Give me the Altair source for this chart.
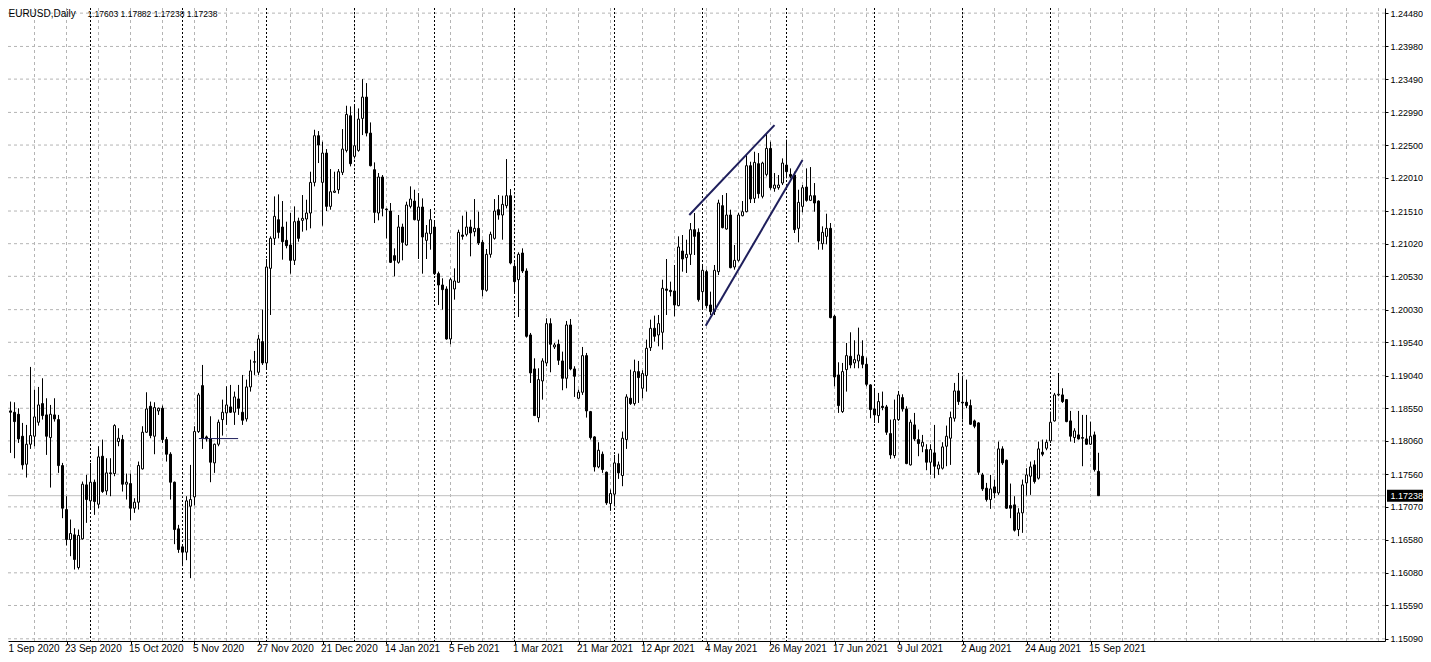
import json
import altair as alt
import pandas as pd

# ---------------- data (EURUSD daily) ----------------
opens = [1.1930, 1.1908, 1.1851, 1.1849, 1.1846, 1.1813, 1.1771, 1.1801, 1.1813, 1.1834,
         1.1862, 1.1845, 1.1811, 1.1845, 1.1838, 1.1769, 1.1703, 1.1658, 1.1665, 1.1616,
         1.1659, 1.1740, 1.1716, 1.1744, 1.1711, 1.1783, 1.1731, 1.1758, 1.1757, 1.1805,
         1.1808, 1.1741, 1.1742, 1.1705, 1.1714, 1.1764, 1.1819, 1.1858, 1.1813, 1.1851,
         1.1855, 1.1808, 1.1786, 1.1744, 1.1674, 1.1647, 1.1639, 1.1708, 1.1722, 1.1820,
         1.1889, 1.1812, 1.1809, 1.1773, 1.1801, 1.1838, 1.1848, 1.1857, 1.1849, 1.1869,
         1.1849, 1.1839, 1.1887, 1.1924, 1.1909, 1.1955, 1.1923, 1.2065, 1.2110, 1.2138,
         1.2127, 1.2107, 1.2100, 1.2077, 1.2136, 1.2137, 1.2139, 1.2148, 1.2194, 1.2264,
         1.2194, 1.2238, 1.2158, 1.2179, 1.2183, 1.2209, 1.2242, 1.2294, 1.2233, 1.2242,
         1.2290, 1.2322, 1.2268, 1.2213, 1.2148, 1.2202, 1.2154, 1.2151, 1.2084, 1.2074,
         1.2127, 1.2100, 1.2158, 1.2166, 1.2137, 1.2157, 1.2107, 1.2117, 1.2127, 1.2057,
         1.2040, 1.2034, 1.1959, 1.2034, 1.2044, 1.2115, 1.2116, 1.2127, 1.2120, 1.2125,
         1.2104, 1.2032, 1.2086, 1.2110, 1.2153, 1.2145, 1.2159, 1.2174, 1.2068, 1.2048,
         1.2088, 1.2061, 1.1965, 1.1914, 1.1841, 1.1896, 1.1923, 1.1982, 1.1947, 1.1951,
         1.1926, 1.1900, 1.1980, 1.1914, 1.1870, 1.1879, 1.1934, 1.1850, 1.1812, 1.1767,
         1.1786, 1.1759, 1.1712, 1.1726, 1.1772, 1.1754, 1.1808, 1.1870, 1.1862, 1.1910,
         1.1885, 1.1904, 1.1946, 1.1975, 1.1965, 1.1969, 1.2034, 1.2032, 1.2031, 1.2009,
         1.2091, 1.2081, 1.2086, 1.2123, 1.2119, 1.2030, 1.2060, 1.2010, 1.2000, 1.2060,
         1.2159, 1.2124, 1.2145, 1.2067, 1.2077, 1.2144, 1.2150, 1.2219, 1.2170, 1.2222,
         1.2173, 1.2206, 1.2245, 1.2185, 1.2186, 1.2193, 1.2220, 1.2206, 1.2205, 1.2125,
         1.2158, 1.2187, 1.2167, 1.2174, 1.2166, 1.2102, 1.2113, 1.2125, 1.1993, 1.1905,
         1.1850, 1.1913, 1.1933, 1.1923, 1.1926, 1.1933, 1.1921, 1.1890, 1.1854, 1.1844,
         1.1858, 1.1857, 1.1817, 1.1784, 1.1838, 1.1871, 1.1854, 1.1770, 1.1830, 1.1808,
         1.1798, 1.1793, 1.1774, 1.1788, 1.1764, 1.1765, 1.1798, 1.1810, 1.1840, 1.1881,
         1.1864, 1.1864, 1.1859, 1.1836, 1.1833, 1.1755, 1.1735, 1.1718, 1.1737, 1.1728,
         1.1794, 1.1777, 1.1709, 1.1710, 1.1673, 1.1698, 1.1743, 1.1753, 1.1770, 1.1750,
         1.1789, 1.1795, 1.1806, 1.1836, 1.1875, 1.1875, 1.1868, 1.1836, 1.1811, 1.1815,
         1.1811, 1.1809, 1.1801, 1.1815, 1.17603]
highs = [1.2012, 1.1929, 1.1865, 1.1864, 1.1855, 1.1833, 1.1830, 1.1917, 1.1883, 1.1887,
         1.1900, 1.1870, 1.1860, 1.1870, 1.1845, 1.1773, 1.1723, 1.1688, 1.1675, 1.1673,
         1.1745, 1.1755, 1.1773, 1.1748, 1.1798, 1.1808, 1.1780, 1.1780, 1.1831, 1.1825,
         1.1815, 1.1757, 1.1757, 1.1720, 1.1775, 1.1828, 1.1879, 1.1865, 1.1864, 1.1856,
         1.1859, 1.1812, 1.1789, 1.1745, 1.1680, 1.1648, 1.1723, 1.1770, 1.1828, 1.1878,
         1.1920, 1.1814, 1.1843, 1.1802, 1.1838, 1.1868, 1.1888, 1.1890, 1.1880, 1.1890,
         1.1905, 1.1898, 1.1928, 1.1941, 1.1965, 1.2003, 1.2079, 1.2113, 1.2173, 1.2176,
         1.2166, 1.2135, 1.2148, 1.2158, 1.2141, 1.2175, 1.2168, 1.2210, 1.2273, 1.2271,
         1.2255, 1.2244, 1.2214, 1.2210, 1.2214, 1.2274, 1.2309, 1.2308, 1.2309, 1.2305,
         1.2349, 1.2343, 1.2284, 1.2224, 1.2208, 1.2205, 1.2155, 1.2163, 1.2095, 1.2145,
         1.2132, 1.2165, 1.2188, 1.2183, 1.2178, 1.2170, 1.2130, 1.2154, 1.2137, 1.2060,
         1.2050, 1.2038, 1.2051, 1.2065, 1.2123, 1.2144, 1.2150, 1.2138, 1.2169, 1.2150,
         1.2108, 1.2094, 1.2120, 1.2169, 1.2175, 1.2174, 1.2229, 1.2184, 1.2074, 1.2089,
         1.2095, 1.2065, 1.1968, 1.1930, 1.1915, 1.1930, 1.1990, 1.1990, 1.1953, 1.1958,
         1.1940, 1.1986, 1.1989, 1.1918, 1.1883, 1.1947, 1.1938, 1.1851, 1.1813, 1.1804,
         1.1790, 1.1760, 1.1733, 1.1785, 1.1787, 1.1820, 1.1876, 1.1913, 1.1928, 1.1926,
         1.1912, 1.1958, 1.1988, 1.1994, 1.1995, 1.2048, 1.2079, 1.2045, 1.2070, 1.2113,
         1.2115, 1.2108, 1.2133, 1.2148, 1.2125, 1.2070, 1.2063, 1.2030, 1.2070, 1.2168,
         1.2175, 1.2178, 1.2153, 1.2100, 1.2148, 1.2166, 1.2235, 1.2225, 1.2240, 1.2238,
         1.2225, 1.2268, 1.2255, 1.2208, 1.2205, 1.2230, 1.2258, 1.2215, 1.2210, 1.2183,
         1.2190, 1.2215, 1.2217, 1.2193, 1.2167, 1.2128, 1.2147, 1.2133, 1.1995, 1.1924,
         1.1923, 1.1953, 1.1969, 1.1957, 1.1976, 1.1957, 1.1931, 1.1891, 1.1885, 1.1878,
         1.1880, 1.1860, 1.1838, 1.1868, 1.1881, 1.1876, 1.1858, 1.1838, 1.1848, 1.1823,
         1.1815, 1.1801, 1.1801, 1.1830, 1.1775, 1.1804, 1.1829, 1.1850, 1.1893, 1.1908,
         1.1903, 1.1898, 1.1868, 1.1838, 1.1834, 1.1758, 1.1743, 1.1755, 1.1748, 1.1805,
         1.1798, 1.1778, 1.1742, 1.1723, 1.1705, 1.1748, 1.1765, 1.1775, 1.1777, 1.1805,
         1.1808, 1.1808, 1.1850, 1.1878, 1.1908, 1.1885, 1.1868, 1.1851, 1.1825, 1.1851,
         1.1845, 1.1845, 1.1835, 1.1820, 1.17882]
lows = [1.1900, 1.1838, 1.1788, 1.1780, 1.1803, 1.1763, 1.1751, 1.1794, 1.1798, 1.1829,
        1.1838, 1.1785, 1.1736, 1.1835, 1.1758, 1.1690, 1.1649, 1.1633, 1.1613, 1.1613,
        1.1658, 1.1683, 1.1703, 1.1695, 1.1705, 1.1728, 1.1725, 1.1723, 1.1753, 1.1798,
        1.1730, 1.1718, 1.1687, 1.1698, 1.1703, 1.1763, 1.1818, 1.1810, 1.1786, 1.1845,
        1.1803, 1.1775, 1.1718, 1.1651, 1.1638, 1.1618, 1.1627, 1.1600, 1.1709, 1.1818,
        1.1794, 1.1805, 1.1744, 1.1758, 1.1798, 1.1814, 1.1830, 1.1848, 1.1830, 1.1845,
        1.1830, 1.1835, 1.1880, 1.1905, 1.1905, 1.1920, 1.1913, 1.1995, 1.2100, 1.2110,
        1.2078, 1.2095, 1.2057, 1.2070, 1.2105, 1.2120, 1.2122, 1.2125, 1.2188, 1.2223,
        1.2129, 1.2151, 1.2153, 1.2178, 1.2177, 1.2205, 1.2239, 1.2218, 1.2230, 1.2240,
        1.2265, 1.2263, 1.2218, 1.2133, 1.2137, 1.2143, 1.2110, 1.2073, 1.2053, 1.2072,
        1.2077, 1.2099, 1.2155, 1.2137, 1.2079, 1.2057, 1.2079, 1.2093, 1.2055, 1.2010,
        1.2003, 1.1958, 1.1951, 1.2018, 1.2044, 1.2108, 1.2113, 1.2083, 1.2113, 1.2100,
        1.2023, 1.2030, 1.2081, 1.2108, 1.2138, 1.2108, 1.2155, 1.2071, 1.2028, 1.1992,
        1.2058, 1.1961, 1.1893, 1.1844, 1.1834, 1.1868, 1.1918, 1.1909, 1.1944, 1.1920,
        1.1882, 1.1885, 1.1912, 1.1872, 1.1869, 1.1875, 1.1841, 1.1808, 1.1760, 1.1765,
        1.1758, 1.1710, 1.1701, 1.1708, 1.1749, 1.1738, 1.1794, 1.1860, 1.1859, 1.1863,
        1.1870, 1.1880, 1.1941, 1.1955, 1.1948, 1.1943, 1.1995, 1.2023, 1.1993, 1.2008,
        1.2060, 1.2058, 1.2070, 1.2085, 1.2015, 1.2005, 1.2005, 1.1995, 1.1995, 1.2055,
        1.2125, 1.2123, 1.2065, 1.2063, 1.2075, 1.2143, 1.2149, 1.2163, 1.2163, 1.2170,
        1.2170, 1.2203, 1.2183, 1.2180, 1.2183, 1.2190, 1.2200, 1.2200, 1.2118, 1.2104,
        1.2149, 1.2165, 1.2166, 1.2150, 1.2093, 1.2093, 1.2101, 1.1990, 1.1888, 1.1848,
        1.1848, 1.1880, 1.1915, 1.1915, 1.1915, 1.1915, 1.1888, 1.1840, 1.1833, 1.1833,
        1.1852, 1.1815, 1.1779, 1.1780, 1.1836, 1.1850, 1.1771, 1.1769, 1.1806, 1.1783,
        1.1789, 1.1762, 1.1755, 1.1750, 1.1755, 1.1763, 1.1768, 1.1770, 1.1835, 1.1860,
        1.1838, 1.1855, 1.1830, 1.1825, 1.1755, 1.1731, 1.1715, 1.1704, 1.1720, 1.1725,
        1.1770, 1.1704, 1.1690, 1.1670, 1.1663, 1.1668, 1.1724, 1.1725, 1.1742, 1.1748,
        1.1783, 1.1792, 1.1803, 1.1835, 1.1873, 1.1863, 1.1834, 1.1805, 1.1803, 1.1808,
        1.1768, 1.1800, 1.1800, 1.1760, 1.17238]
closes = [1.1908, 1.1854, 1.1849, 1.1835, 1.1809, 1.1770, 1.1801, 1.1814, 1.1842, 1.1860,
          1.1844, 1.1813, 1.1846, 1.1839, 1.1769, 1.1705, 1.1658, 1.1667, 1.1628, 1.1664,
          1.1741, 1.1718, 1.1744, 1.1715, 1.1782, 1.1730, 1.1758, 1.1757, 1.1829, 1.1810,
          1.1741, 1.1744, 1.1705, 1.1714, 1.1769, 1.1819, 1.1854, 1.1814, 1.1856, 1.1855,
          1.1808, 1.1786, 1.1744, 1.1673, 1.1643, 1.1639, 1.1716, 1.1718, 1.1820, 1.1875,
          1.1810, 1.1809, 1.1774, 1.1801, 1.1834, 1.1849, 1.1860, 1.1849, 1.1872, 1.1855,
          1.1837, 1.1887, 1.1911, 1.1925, 1.1959, 1.1923, 1.2067, 1.2110, 1.2143, 1.2119,
          1.2105, 1.2099, 1.2077, 1.2135, 1.2110, 1.2140, 1.2148, 1.2194, 1.2264, 1.2250,
          1.2238, 1.2158, 1.2180, 1.2181, 1.2210, 1.2244, 1.2296, 1.2222, 1.2249, 1.2289,
          1.2322, 1.2268, 1.2219, 1.2149, 1.2202, 1.2155, 1.2153, 1.2074, 1.2077, 1.2127,
          1.2104, 1.2160, 1.2169, 1.2138, 1.2157, 1.2112, 1.2118, 1.2138, 1.2057, 1.2040,
          1.2033, 1.1959, 1.2048, 1.2046, 1.2119, 1.2113, 1.2127, 1.2118, 1.2125, 1.2103,
          1.2033, 1.2086, 1.2116, 1.2151, 1.2145, 1.2161, 1.2174, 1.2073, 1.2045, 1.2086,
          1.2061, 1.1963, 1.1908, 1.1844, 1.1898, 1.1926, 1.1982, 1.1951, 1.1950, 1.1927,
          1.1900, 1.1980, 1.1914, 1.1903, 1.1879, 1.1934, 1.1851, 1.1811, 1.1767, 1.1792,
          1.1763, 1.1713, 1.1727, 1.1773, 1.1758, 1.1810, 1.1872, 1.1862, 1.1910, 1.1901,
          1.1907, 1.1945, 1.1975, 1.1963, 1.1982, 1.2035, 1.2032, 1.2030, 1.2010, 1.2097,
          1.2079, 1.2086, 1.2123, 1.2113, 1.2018, 1.2062, 1.2009, 1.2000, 1.2062, 1.2163,
          1.2126, 1.2145, 1.2066, 1.2077, 1.2145, 1.2150, 1.2219, 1.2169, 1.2224, 1.2177,
          1.2223, 1.2245, 1.2186, 1.2190, 1.2190, 1.2223, 1.2210, 1.2203, 1.2123, 1.2164,
          1.2186, 1.2167, 1.2174, 1.2163, 1.2106, 1.2119, 1.2125, 1.1991, 1.1902, 1.1859,
          1.1910, 1.1934, 1.1920, 1.1928, 1.1935, 1.1921, 1.1891, 1.1853, 1.1845, 1.1865,
          1.1856, 1.1819, 1.1785, 1.1838, 1.1875, 1.1854, 1.1772, 1.1834, 1.1809, 1.1802,
          1.1804, 1.1774, 1.1793, 1.1768, 1.1770, 1.1797, 1.1813, 1.1841, 1.1881, 1.1865,
          1.1863, 1.1859, 1.1831, 1.1828, 1.1759, 1.1734, 1.1718, 1.1734, 1.1728, 1.1794,
          1.1773, 1.1705, 1.1705, 1.1672, 1.1698, 1.1740, 1.1755, 1.1767, 1.1745, 1.1794,
          1.1786, 1.1804, 1.1834, 1.1875, 1.1876, 1.1865, 1.1835, 1.1813, 1.1821, 1.1809,
          1.1810, 1.1801, 1.1813, 1.1763, 1.17238]

symbol_label = "EURUSD,Daily"
price_ticks = [1.24480, 1.23980, 1.23490, 1.22990, 1.22500, 1.22010, 1.21510, 1.21020,
               1.20530, 1.20030, 1.19540, 1.19040, 1.18550, 1.18060, 1.17560, 1.17070,
               1.16580, 1.16080, 1.15590, 1.15090]
date_labels = ["1 Sep 2020", "23 Sep 2020", "15 Oct 2020", "5 Nov 2020", "27 Nov 2020",
               "21 Dec 2020", "14 Jan 2021", "5 Feb 2021", "1 Mar 2021", "21 Mar 2021",
               "12 Apr 2021", "4 May 2021", "26 May 2021", "17 Jun 2021", "9 Jul 2021",
               "2 Aug 2021", "24 Aug 2021", "15 Sep 2021"]
label_every = 16          # bars between time labels
grid_every = 8            # bars between vertical grid lines
month_start_bars = [22, 45, 66, 88, 108, 128, 153, 175, 196, 218, 240, 262]
# drawn objects: (bar, price) anchors
upper_line = {"bar": [171.7, 193.0], "price": [1.2145, 1.2280]}
lower_line = {"bar": [175.8, 200.0], "price": [1.1979, 1.22275]}
flat_line = {"bar": [49.1, 58.9], "price": [1.18095, 1.18095]}

# ---------------- layout ----------------
W, H = 1377, 633
X_DOM = [1.375, 345.625]
Y_DOM = [1.15057, 1.24557]
FONT = "Liberation Sans, Arial"
GRID = "#b4b4b4"
NAVY = "#1f1f5c"
LABEL_BASE = 643.5   # baseline of the time labels, px from the plot's top

xs = alt.Scale(domain=X_DOM, nice=False, zero=False)
ys = alt.Scale(domain=Y_DOM, nice=False, zero=False)

n = len(closes)
df = pd.DataFrame({"bar": list(range(n)), "open": opens, "high": highs,
                   "low": lows, "close": closes})
df["body_lo"] = df[["open", "close"]].min(axis=1)
df["body_hi"] = df[["open", "close"]].max(axis=1)
df["bull"] = df["close"] >= df["open"]
df["xl"] = df["bar"] - 0.25
df["xr"] = df["bar"] + 0.25

max_bar = int(X_DOM[1])
vgrid = pd.DataFrame({"bar": list(range(0, max_bar + 1, grid_every))})
hgrid = pd.DataFrame({"price": price_ticks})
seps = pd.DataFrame({"bar": month_start_bars})
label_bars = [k * label_every for k in range(len(date_labels))]

label_expr = json.dumps(date_labels) + f"[round(datum.value/{label_every})]"

x_axis = alt.Axis(values=label_bars[1:], labelExpr=label_expr, labelAlign="left",
                  labelBaseline="alphabetic", labelOffset=-2,
                  labelFont=FONT, labelFontSize=10, labelColor="black",
                  tickSize=3, tickColor="black", domainColor="black",
                  labelPadding=LABEL_BASE - H - 3.5, labelOverlap=False, labelFlush=False,
                  grid=False, title=None)
y_axis = alt.Axis(values=price_ticks, format=".5f", orient="right",
                  labelFont=FONT, labelFontSize=9, labelColor="black",
                  tickSize=3, tickColor="black", domainColor="black",
                  labelPadding=2, labelOverlap=False, labelFlush=False,
                  grid=False, title=None)


def X(field):
    return alt.X(field, scale=xs, axis=x_axis, title=None)


def Y(field):
    return alt.Y(field, scale=ys, axis=y_axis, title=None)


hgrid_layer = alt.Chart(hgrid).mark_rule(color=GRID, strokeDash=[3, 3], strokeWidth=1).encode(
    y=Y("price:Q"), x=alt.value(0), x2=alt.value(W))

vgrid_layer = alt.Chart(vgrid).mark_rule(color=GRID, strokeDash=[3, 3], strokeWidth=1).encode(
    x=X("bar:Q"), y=alt.value(0), y2=alt.value(H))

sep_layer = alt.Chart(seps).mark_rule(color="black", strokeDash=[2, 2], strokeWidth=1).encode(
    x=X("bar:Q"), y=alt.value(0), y2=alt.value(H))

last_df = pd.DataFrame({"price": [closes[-1]], "txt": [f"{closes[-1]:.5f}"]})
last_line = alt.Chart(last_df).mark_rule(color="#c0c0c0", strokeWidth=1).encode(
    y=Y("price:Q"), x=alt.value(0), x2=alt.value(W))

wicks = alt.Chart(df).mark_rule(color="black", strokeWidth=1, clip=True).encode(
    x=X("bar:Q"), y=Y("low:Q"), y2="high:Q")

bodies = alt.Chart(df).mark_rect(stroke="black", strokeWidth=1, clip=True).encode(
    x=X("xl:Q"), x2="xr:Q",
    y=Y("body_lo:Q"), y2="body_hi:Q",
    fill=alt.Fill("bull:N", scale=alt.Scale(domain=[True, False], range=["white", "black"]),
                  legend=None))


def seg(d, width):
    t = pd.DataFrame(d)
    return alt.Chart(t).mark_line(color=NAVY, strokeWidth=width, clip=True).encode(
        x=X("bar:Q"), y=Y("price:Q"))


BOX_X = 1399  # centre of the price tag, px from the plot's left edge
box = alt.Chart(last_df).mark_point(shape="M-1,-0.3L1,-0.3L1,0.3L-1,0.3Z", size=1600,
                                    filled=True, color="black", opacity=1, strokeWidth=0).encode(
    x=alt.value(BOX_X), y=Y("price:Q"))
box_txt = alt.Chart(last_df).mark_text(color="white", font=FONT, fontSize=9, align="left",
                                       baseline="middle").encode(
    x=alt.value(W + 5.5), y=Y("price:Q"), text="txt:N")

ohlc_txt = f"{opens[-1]:.5f} {highs[-1]:.5f} {lows[-1]:.5f} {closes[-1]:.5f}"


def plain_text(txt, px, py, size):
    return alt.Chart(pd.DataFrame({"t": [txt]})).mark_text(
        color="black", font=FONT, fontSize=size, align="left", baseline="alphabetic").encode(
        x=alt.value(px), y=alt.value(py), text="t:N")


chart = alt.layer(
    hgrid_layer, vgrid_layer, sep_layer, last_line, wicks, bodies,
    seg(upper_line, 2), seg(lower_line, 2), seg(flat_line, 1),
    box, box_txt,
    plain_text(symbol_label, 0.5, 9, 10),
    plain_text(ohlc_txt, 79.5, 9, 8.5),
    plain_text(date_labels[0], 0.5, LABEL_BASE, 10),
).properties(
    width=W, height=H,
    padding={"left": 0, "top": 0, "right": 38, "bottom": 13},
    autosize=alt.AutoSizeParams(type="none"),
    background="white",
).configure_view(stroke=None)

chart.save("out.html", embed_options={"renderer": "svg", "actions": False})
